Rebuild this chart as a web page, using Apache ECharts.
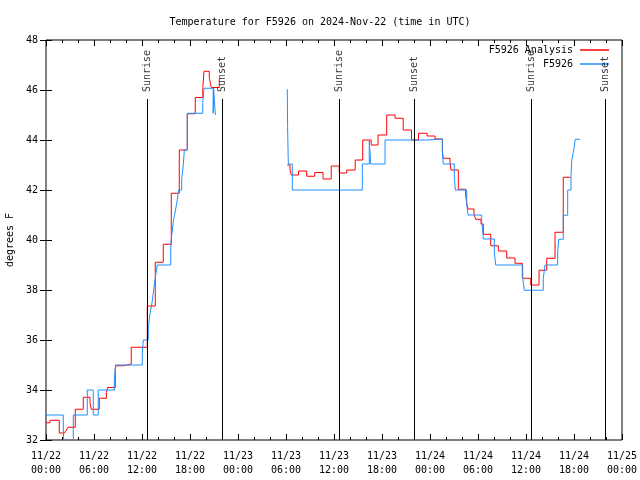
<!DOCTYPE html>
<html>
<head>
<meta charset="utf-8">
<script src="https://cdn.jsdelivr.net/npm/echarts@6/dist/echarts.min.js"></script>
<style>html,body{margin:0;padding:0;background:#fff}#c{width:640px;height:480px}</style>
</head>
<body>
<div id="c"></div>
<script>
// Hours since 2024-11-22 00:00 UTC, temperature in degrees F
const analysisPart1 = [[0,32.69],[0.5,32.79],[1.66,32.28],[2.3,32.33],[2.55,32.4],[2.75,32.51],[3.66,33.23],[4.66,33.71],[5.5,33.5],[5.66,33.23],[6.66,33.67],[7.55,33.9],[7.7,34.1],[8.66,34.83],[8.75,34.97],[9.66,35.04],[10.66,35.71],[12.66,37.36],[13.66,39.11],[14.66,39.83],[15.66,41.87],[16.66,43.6],[17.66,45.05],[18.66,45.7],[19.6,46.1],[19.75,46.75],[20.41,46.5],[20.66,46.1],[21.66,46.45]];
const analysisPart2 = [[30.16,43.0],[30.5,42.8],[30.66,42.6],[31.56,42.76],[32.59,42.55],[33.59,42.7],[34.63,42.44],[35.65,42.96],[36.65,42.68],[37.59,42.8],[38.65,43.2],[39.59,44.0],[40.65,43.8],[41.5,44.2],[42.59,45.0],[43.63,44.87],[44.65,44.4],[45.69,44.0],[46.56,44.27],[47.63,44.16],[48.63,44.04],[49.56,43.53],[49.66,43.27],[50.5,43.07],[50.63,42.8],[51.54,42.03],[52.46,41.8],[52.59,41.44],[52.79,41.24],[53.5,41.03],[53.71,40.83],[54.38,40.64],[54.66,40.23],[55.59,39.77],[56.54,39.56],[57.59,39.28],[58.63,39.07],[59.54,38.47],[60.59,38.2],[61.63,38.79],[62.59,39.27],[63.63,40.31],[64.66,42.51],[65.59,42.51]];
const obsPart1 = [[0,33.0],[2.16,32.48],[2.31,31.0],[3.41,33.0],[5.16,34.0],[5.91,33.0],[6.53,34.0],[8.54,34.4],[8.69,35.0],[12.04,35.47],[12.16,36.0],[12.79,36.47],[12.96,36.97],[13.21,37.4],[13.46,38.0],[13.71,38.6],[13.91,39.0],[15.59,39.6],[15.66,40.03],[15.84,40.53],[15.91,40.73],[16.09,41.03],[16.34,41.47],[16.59,42.0],[16.96,42.43],[17.16,43.0],[17.29,43.6],[17.66,45.07],[19.59,45.5],[19.75,46.07],[20.9,45.07],[20.95,46.07],[21.17,45.0]];
const obsPart2 = [[30.16,46.03],[30.2,44.5],[30.29,43.04],[30.79,42.0],[39.54,43.04],[40.41,43.97],[40.59,43.04],[42.38,44.0],[47.59,44.04],[49.54,43.53],[49.66,43.04],[51.04,42.53],[51.16,42.0],[52.59,41.44],[52.75,41.0],[54.46,40.73],[54.59,40.37],[54.66,40.04],[56.04,39.53],[56.21,39.0],[59.59,38.47],[59.79,37.99],[62.16,38.47],[62.38,39.0],[63.96,39.52],[64.09,40.03],[64.66,40.99],[65.21,42.0],[65.63,42.53],[65.71,43.16],[65.88,43.47],[66.0,43.67],[66.16,44.03],[66.75,44.03]];
const sunEventHours = [12.67, 22.04, 36.67, 46.04, 60.67, 69.92];
const sunEventNames = ['Sunrise', 'Sunset', 'Sunrise', 'Sunset', 'Sunrise', 'Sunset'];
const xTickLabels = ['11/22\n00:00','11/22\n06:00','11/22\n12:00','11/22\n18:00','11/23\n00:00','11/23\n06:00','11/23\n12:00','11/23\n18:00','11/24\n00:00','11/24\n06:00','11/24\n12:00','11/24\n18:00','11/25\n00:00'];
const titleText = 'Temperature for F5926 on 2024-Nov-22 (time in UTC)';
const yAxisTitle = 'degrees F';
const nameAnalysis = 'F5926 Analysis';
const nameObs = 'F5926';

const FONT = 'DejaVu Sans Mono';
const RED = '#ff0000', BLUE = '#1e90ff';
const lineTop = 45.64, labelBase = 45.92;

const chart = echarts.init(document.getElementById('c'), null, {renderer: 'canvas'});
const baseX = {
  type: 'value', min: 0, max: 72, interval: 6,
  axisLine: {show: false},
  splitLine: {show: false},
  axisTick: {show: true, inside: true, length: 6, lineStyle: {color: '#000'}},
  minorTick: {show: true, splitNumber: 3, length: 3, lineStyle: {color: '#000'}}
};
const baseY = {
  type: 'value', min: 32, max: 48, interval: 2,
  axisLine: {show: false},
  splitLine: {show: false},
  axisTick: {show: true, inside: true, length: 6, lineStyle: {color: '#000'}}
};
function stepSeries(name, data, color) {
  return {
    name, type: 'line', step: 'end', data, showSymbol: false, symbol: 'none',
    lineStyle: {color, width: 1}, itemStyle: {color}, animation: false, clip: true, z: 3
  };
}
chart.setOption({
  animation: false,
  title: {text: titleText, left: 'center', top: 12,
    textStyle: {fontFamily: FONT, fontSize: 10, fontWeight: 'normal', color: '#000'}},
  legend: {
    orient: 'vertical', right: 26, top: 39, align: 'right',
    itemWidth: 29, itemHeight: 1.5, itemGap: 2, icon: 'rect',
    data: [{name: nameAnalysis, itemStyle: {color: RED}}, {name: nameObs, itemStyle: {color: BLUE}}],
    textStyle: {fontFamily: FONT, fontSize: 10, color: '#000', lineHeight: 12, padding: [0, 2, 0, 0]},
    selectedMode: false
  },
  grid: {left: 46, right: 18, top: 40, bottom: 40, outerBoundsMode: 'none', containLabel: false,
    show: true, borderColor: '#000', borderWidth: 1, backgroundColor: 'transparent'},
  xAxis: [
    Object.assign({}, baseX, {position: 'bottom',
      axisLabel: {margin: 9, fontFamily: FONT, fontSize: 10, color: '#000', lineHeight: 14,
        formatter: v => xTickLabels[Math.round(v / 6)]}}),
    Object.assign({}, baseX, {position: 'top', axisLabel: {show: false}})
  ],
  yAxis: [
    Object.assign({}, baseY, {position: 'left', name: yAxisTitle, nameLocation: 'middle', nameGap: 31,
      nameTextStyle: {fontFamily: FONT, fontSize: 10, color: '#000'},
      axisLabel: {margin: 8, fontFamily: FONT, fontSize: 10, color: '#000'}}),
    Object.assign({}, baseY, {position: 'right', axisLabel: {show: false}})
  ],
  series: [
    stepSeries(nameAnalysis, analysisPart1, RED),
    stepSeries(nameAnalysis, analysisPart2, RED),
    stepSeries(nameObs, obsPart1, BLUE),
    stepSeries(nameObs, obsPart2, BLUE),
    {
      name: 'sun', type: 'scatter', symbolSize: 0, z: 5, silent: true,
      data: sunEventHours.map((h, i) => ({value: [h, labelBase], name: sunEventNames[i]})),
      label: {show: true, formatter: '{b}', position: 'inside', rotate: 90, align: 'left', verticalAlign: 'middle',
        fontFamily: FONT, fontSize: 10, color: '#000'},
      markLine: {
        silent: true, symbol: 'none', animation: false,
        lineStyle: {color: '#000', width: 1, type: 'solid'},
        label: {show: false},
        data: sunEventHours.map(h => [{coord: [h, 32]}, {coord: [h, lineTop]}])
      }
    }
  ]
});
</script>
</body>
</html>
